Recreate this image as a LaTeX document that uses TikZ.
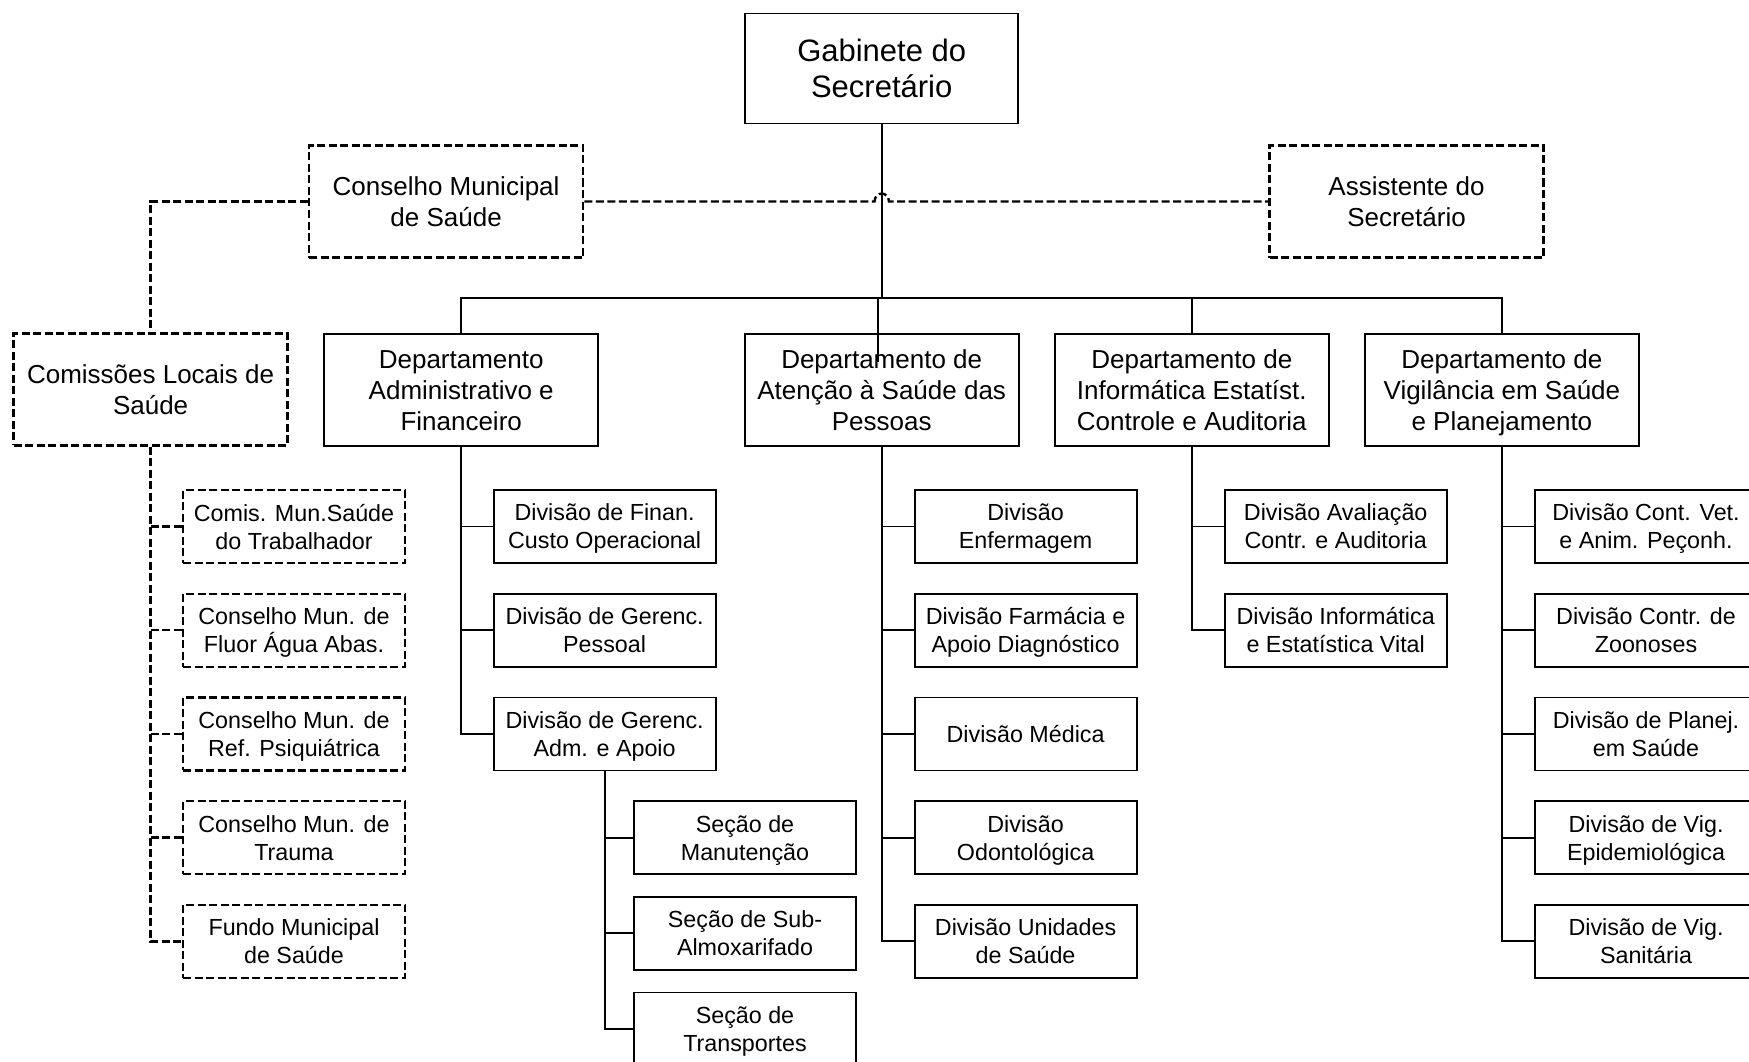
\documentclass[tikz,border=0pt]{standalone}
\usepackage{fontspec}
\setmainfont{Liberation Sans}
\begin{document}
\begin{tikzpicture}[x=1pt,y=-1pt,
  solidbox/.style={draw, line width=1.8pt, inner sep=0pt, align=center, text depth=0pt},
  dashbox/.style={solidbox, dash pattern=on 8pt off 3.5pt, line width=2.4pt},
  big/.style={minimum width=274pt, minimum height=112pt, font=\fontsize{26}{31}\selectfont},
  gabst/.style={minimum width=273pt, minimum height=110pt, font=\fontsize{31}{36}\selectfont},
  small/.style={minimum width=222pt, minimum height=73pt, font=\fontsize{23.3}{28}\selectfont},
  link/.style={line width=1.9pt},
  dlink/.style={line width=2.4pt, dash pattern=on 8pt off 3.5pt},
]
\useasboundingbox (0,0) rectangle (1749,1062);
\fill[white] (0,0) rectangle (1749,1062);
\clip (0,0) rectangle (1749,1062);

% top
\node[solidbox,gabst] (gab) at (881.7,68.6) {Gabinete do\\Secretário};
\node[dashbox,big] (cons) at (446.1,201.5) {Conselho Municipal\\de Saúde};
\node[dashbox,big] (asst) at (1406.5,201.5) {Assistente do\\Secretário};
\node[dashbox,big] (com) at (150.6,389.3) {Comissões Locais de\\Saúde};

% departments
\node[solidbox,big] (dAdm) at (461.2,390.3) {Departamento\\Administrativo e\\Financeiro};
\node[solidbox,big] (dAt) at (881.7,390.3) {Departamento de\\Atenção à Saúde das\\Pessoas};
\node[solidbox,big] (dInf) at (1191.8,390.3) {Departamento de\\Informática Estatíst.\\Controle e Auditoria};
\node[solidbox,big] (dVig) at (1501.9,390.3) {Departamento de\\Vigilância em Saúde\\e Planejamento};

% comissões (dashed)
\node[dashbox,small] (c1) at (294,526.5) {Comis. Mun.Saúde\\do Trabalhador};
\node[dashbox,small] (c2) at (294,630.2) {Conselho Mun. de\\Fluor Água Abas.};
\node[dashbox,small] (c3) at (294,733.9) {Conselho Mun. de\\Ref. Psiquiátrica};
\node[dashbox,small] (c4) at (294,837.6) {Conselho Mun. de\\Trauma};
\node[dashbox,small] (c5) at (294,941.3) {Fundo Municipal\\de Saúde};

% adm divisions
\node[solidbox,small] (a1) at (604.6,526.5) {Divisão de Finan.\\Custo Operacional};
\node[solidbox,small] (a2) at (604.6,630.2) {Divisão de Gerenc.\\Pessoal};
\node[solidbox,small] (a3) at (604.6,733.9) {Divisão de Gerenc.\\Adm. e Apoio};

% seções
\node[solidbox,small] (s1) at (745,837.6) {Seção de\\Manutenção};
\node[solidbox,small] (s2) at (745,933.2) {Seção de Sub-\\Almoxarifado};
\node[solidbox,small] (s3) at (745,1029) {Seção de\\Transportes};

% atenção divisions
\node[solidbox,small] (t1) at (1025.6,526.5) {Divisão\\Enfermagem};
\node[solidbox,small] (t2) at (1025.6,630.2) {Divisão Farmácia e\\Apoio Diagnóstico};
\node[solidbox,small] (t3) at (1025.6,733.9) {Divisão Médica};
\node[solidbox,small] (t4) at (1025.6,837.6) {Divisão\\Odontológica};
\node[solidbox,small] (t5) at (1025.6,941.3) {Divisão Unidades\\de Saúde};

% informática divisions
\node[solidbox,small] (i1) at (1335.7,526.5) {Divisão Avaliação\\Contr. e Auditoria};
\node[solidbox,small] (i2) at (1335.7,630.2) {Divisão Informática\\e Estatística Vital};

% vigilância divisions
\node[solidbox,small] (v1) at (1646,526.5) {Divisão Cont. Vet.\\e Anim. Peçonh.};
\node[solidbox,small] (v2) at (1646,630.2) {Divisão Contr. de\\Zoonoses};
\node[solidbox,small] (v3) at (1646,733.9) {Divisão de Planej.\\em Saúde};
\node[solidbox,small] (v4) at (1646,837.6) {Divisão de Vig.\\Epidemiológica};
\node[solidbox,small] (v5) at (1646,941.3) {Divisão de Vig.\\Sanitária};

% coordinates
\coordinate (bus) at (881.7,297.7);
\coordinate (hopL) at (874.5,201.5);
\coordinate (hopR) at (889,201.5);
\coordinate (atTop) at (877.7,297.7);
\coordinate (atEnd) at (877.7,362);

% solid connectors
\draw[link] (gab.south) -- (bus);
\draw[link] (dAdm.north) -- (dAdm.north |- bus) -- (dVig.north |- bus) -- (dVig.north);
\draw[link] (dInf.north |- bus) -- (dInf.north);
\draw[link] (atTop) -- (atEnd);

\draw[link] (dAdm.south) |- (a3.west);
\foreach \n in {a1,a2} \draw[link] (dAdm.south |- \n.west) -- (\n.west);
\draw[link] (a3.south) |- (s3.west);
\foreach \n in {s1,s2} \draw[link] (a3.south |- \n.west) -- (\n.west);
\draw[link] (dAt.south) |- (t5.west);
\foreach \n in {t1,t2,t3,t4} \draw[link] (dAt.south |- \n.west) -- (\n.west);
\draw[link] (dInf.south) |- (i2.west);
\draw[link] (dInf.south |- i1.west) -- (i1.west);
\draw[link] (dVig.south) |- (v5.west);
\foreach \n in {v1,v2,v3,v4} \draw[link] (dVig.south |- \n.west) -- (\n.west);

% dashed connectors
\draw[dlink] (cons.east) -- (hopL) .. controls (875,191) and (888.5,191) .. (hopR) -- (asst.west);
\draw[dlink] (cons.west) -| (com.north);
\draw[dlink] (com.south) |- (c5.west);
\foreach \n in {c1,c2,c3,c4} \draw[dlink] (com.south |- \n.west) -- (\n.west);
\end{tikzpicture}
\end{document}
